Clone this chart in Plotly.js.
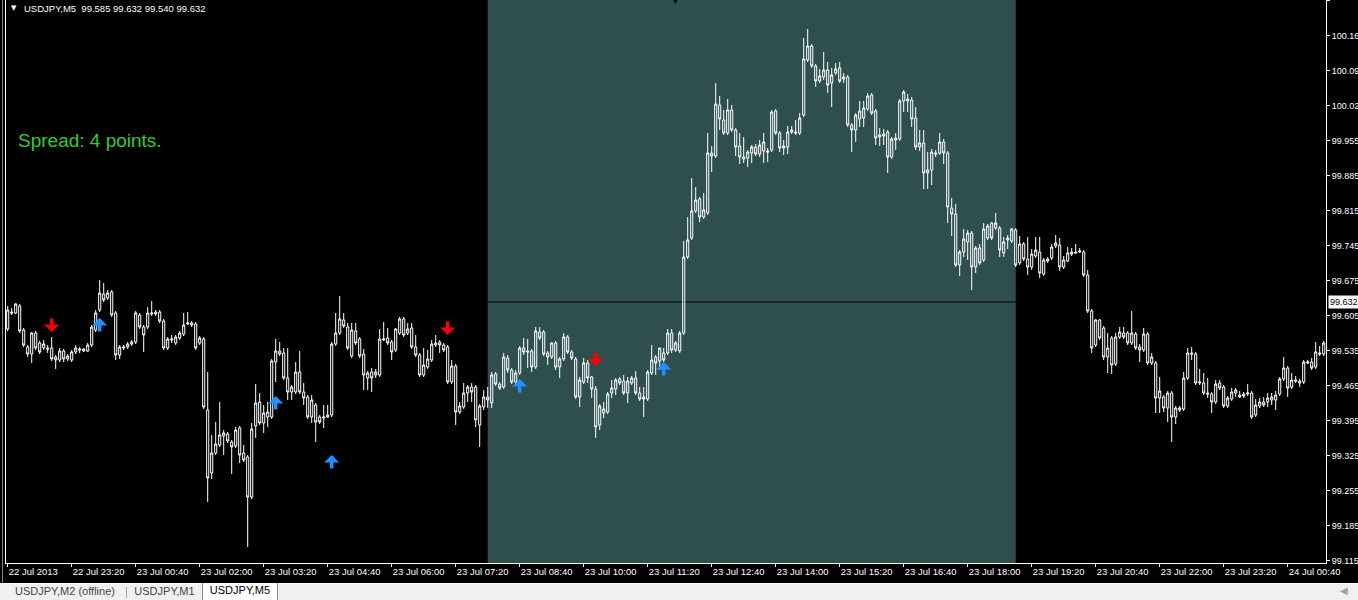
<!DOCTYPE html>
<html>
<head>
<meta charset="utf-8">
<script src="https://cdn.plot.ly/plotly-3.0.1.min.js"></script>
<style>
html,body{margin:0;padding:0;background:#000;width:1358px;height:600px;overflow:hidden;}
#chart{position:absolute;left:0;top:0;width:1358px;height:583px;}
#tabs{position:absolute;left:0;top:583px;width:1358px;height:17px;background:#f0f0f0;border-top:1px solid #ffffff;box-sizing:border-box;font-family:"Liberation Sans",Arial,sans-serif;font-size:11px;color:#444;}
.tab{position:absolute;top:0;height:16px;line-height:15px;text-align:center;}
#b1{position:absolute;left:2px;top:0;width:1px;height:583px;background:#808080;}
#b2{position:absolute;left:5px;top:0;width:1px;height:564px;background:#ffffff;}
</style>
</head>
<body>
<div id="chart"></div>
<div id="b1"></div><div id="b2"></div>
<div id="tabs">
  <div class="tab" style="left:4px;width:122px;">USDJPY,M2 (offline)</div>
  <div style="position:absolute;left:126px;top:3px;width:1px;height:11px;background:#a0a0a0;"></div>
  <div class="tab" style="left:128px;width:73px;">USDJPY,M1</div>
  <div class="tab" style="left:202px;top:-1px;width:74px;height:17px;background:#ffffff;border:1px solid #8a8a8a;border-top:none;color:#000;">USDJPY,M5</div>
  <div style="position:absolute;left:1340px;top:1px;color:#a0a0a0;font-size:10px;">&#9664;</div>
</div>
<script>
// ---- data ----
const barStart = '2013-07-22T22:00:00Z';
const barMinutes = 5;
const opens = [
99.578,99.612,99.610,99.624,99.576,99.542,99.528,99.570,99.550,99.540,
99.540,99.540,99.522,99.516,99.534,99.518,99.516,99.532,99.538,99.534,
99.534,99.546,99.576,99.616,99.648,99.640,99.652,99.610,99.526,99.540,
99.542,99.548,99.552,99.606,99.582,99.582,99.608,99.612,99.612,99.594,
99.540,99.556,99.550,99.560,99.568,99.588,99.590,99.588,99.550,99.558,
99.416,99.290,99.330,99.346,99.364,99.368,99.352,99.344,99.380,99.330,
99.322,99.242,99.384,99.432,99.390,99.402,99.402,99.512,99.534,99.530,
99.480,99.452,99.452,99.492,99.452,99.442,99.402,99.426,99.402,99.400,
99.402,99.406,99.548,99.570,99.596,99.582,99.524,99.574,99.558,99.528,
99.480,99.492,99.486,99.486,99.556,99.560,99.552,99.536,99.570,99.598,
99.570,99.580,99.542,99.526,99.486,99.502,99.516,99.546,99.552,99.546,
99.542,99.472,99.504,99.412,99.422,99.450,99.462,99.462,99.386,99.422,
99.442,99.430,99.488,99.468,99.462,99.520,99.496,99.472,99.490,99.540,
99.534,99.534,99.502,99.572,99.572,99.530,99.522,99.550,99.502,99.518,
99.562,99.532,99.518,99.442,99.472,99.510,99.482,99.458,99.386,99.410,
99.412,99.450,99.458,99.478,99.474,99.450,99.470,99.480,99.450,99.438,
99.438,99.490,99.522,99.514,99.530,99.530,99.570,99.536,99.534,99.570,
99.722,99.760,99.814,99.838,99.802,99.810,99.930,99.924,100.026,99.996,
99.970,100.016,99.976,99.944,99.918,99.920,99.930,99.942,99.928,99.934,
99.934,99.936,100.014,99.970,99.940,99.942,99.972,99.972,99.970,100.006,
100.116,100.144,100.104,100.074,100.082,100.096,100.070,100.090,100.100,100.078,
100.082,99.986,99.976,99.998,100.000,100.018,100.046,100.014,99.962,99.964,
99.972,99.922,99.956,99.958,100.034,100.038,100.036,100.000,99.942,99.950,
99.890,99.896,99.930,99.930,99.952,99.930,99.820,99.808,99.706,99.732,
99.752,99.770,99.702,99.740,99.716,99.760,99.790,99.780,99.780,99.730,
99.756,99.754,99.776,99.710,99.748,99.718,99.702,99.724,99.732,99.688,
99.714,99.720,99.744,99.746,99.702,99.714,99.728,99.732,99.732,99.732,
99.686,99.614,99.546,99.596,99.580,99.522,99.560,99.508,99.562,99.570,
99.570,99.550,99.568,99.542,99.536,99.568,99.510,99.510,99.440,99.442,
99.420,99.450,99.402,99.416,99.418,99.480,99.530,99.528,99.470,99.470,
99.450,99.448,99.432,99.470,99.462,99.424,99.438,99.450,99.446,99.444,
99.448,99.450,99.406,99.424,99.432,99.432,99.436,99.436,99.448,99.478,
99.500,99.462,99.476,99.474,99.472,99.510,99.512,99.502,99.530,99.528];
const highs = [
99.624,99.620,99.630,99.628,99.580,99.546,99.572,99.574,99.554,99.556,
99.546,99.562,99.526,99.540,99.538,99.528,99.536,99.546,99.542,99.540,
99.550,99.586,99.616,99.676,99.670,99.656,99.656,99.614,99.546,99.546,
99.552,99.556,99.614,99.610,99.586,99.622,99.634,99.616,99.616,99.598,
99.562,99.566,99.566,99.574,99.610,99.612,99.594,99.592,99.564,99.562,
99.492,99.366,99.392,99.432,99.376,99.372,99.356,99.382,99.384,99.346,
99.326,99.390,99.468,99.450,99.426,99.432,99.518,99.558,99.552,99.540,
99.540,99.466,99.512,99.534,99.470,99.446,99.446,99.430,99.406,99.426,
99.426,99.552,99.610,99.644,99.610,99.590,99.590,99.590,99.562,99.538,
99.494,99.500,99.498,99.578,99.592,99.580,99.556,99.580,99.602,99.602,
99.590,99.590,99.566,99.530,99.540,99.536,99.556,99.566,99.556,99.550,
99.546,99.516,99.508,99.432,99.470,99.466,99.470,99.466,99.428,99.456,
99.462,99.492,99.492,99.472,99.530,99.526,99.500,99.496,99.544,99.560,
99.558,99.538,99.582,99.582,99.576,99.534,99.552,99.554,99.522,99.570,
99.566,99.536,99.522,99.482,99.520,99.516,99.484,99.464,99.428,99.432,
99.452,99.476,99.480,99.482,99.486,99.482,99.484,99.494,99.462,99.462,
99.496,99.546,99.526,99.540,99.540,99.578,99.578,99.554,99.574,99.754,
99.802,99.880,99.862,99.842,99.850,99.970,99.944,100.070,100.044,100.016,
100.038,100.026,99.980,99.970,99.962,99.936,99.946,99.948,99.956,99.970,
99.940,100.016,100.018,99.974,99.956,99.984,99.984,99.996,100.010,100.160,
100.178,100.148,100.108,100.098,100.132,100.112,100.100,100.110,100.112,100.090,
100.086,99.990,100.010,100.034,100.034,100.050,100.050,100.018,99.980,99.978,
99.976,99.962,99.970,100.038,100.056,100.048,100.042,100.022,99.976,99.976,
99.932,99.938,99.936,99.970,99.958,99.934,99.840,99.828,99.736,99.778,
99.776,99.774,99.744,99.748,99.790,99.788,99.792,99.810,99.784,99.762,
99.766,99.780,99.780,99.764,99.752,99.762,99.738,99.762,99.762,99.720,
99.722,99.748,99.766,99.760,99.724,99.742,99.740,99.748,99.740,99.736,
99.696,99.618,99.598,99.598,99.584,99.570,99.564,99.570,99.582,99.582,
99.574,99.614,99.572,99.548,99.580,99.572,99.530,99.514,99.482,99.446,
99.454,99.454,99.424,99.424,99.492,99.540,99.542,99.532,99.498,99.490,
99.480,99.452,99.476,99.476,99.466,99.444,99.460,99.460,99.454,99.452,
99.468,99.454,99.438,99.440,99.442,99.450,99.450,99.454,99.482,99.522,
99.504,99.490,99.484,99.478,99.516,99.516,99.520,99.552,99.544,99.554];
const lows = [
99.574,99.606,99.608,99.570,99.542,99.522,99.510,99.536,99.528,99.536,
99.530,99.514,99.498,99.512,99.512,99.514,99.512,99.528,99.530,99.532,
99.532,99.542,99.572,99.612,99.632,99.636,99.602,99.516,99.518,99.536,
99.538,99.544,99.548,99.578,99.532,99.578,99.604,99.604,99.590,99.536,
99.536,99.550,99.546,99.556,99.564,99.586,99.582,99.536,99.546,99.418,
99.232,99.278,99.326,99.342,99.326,99.350,99.288,99.340,99.310,99.312,
99.142,99.238,99.360,99.386,99.370,99.382,99.398,99.472,99.524,99.476,
99.436,99.436,99.448,99.448,99.426,99.398,99.390,99.352,99.388,99.380,
99.400,99.402,99.544,99.566,99.580,99.536,99.520,99.546,99.520,99.456,
99.456,99.452,99.480,99.482,99.554,99.546,99.516,99.532,99.566,99.562,
99.566,99.538,99.522,99.482,99.482,99.498,99.512,99.542,99.530,99.532,
99.468,99.468,99.386,99.408,99.418,99.432,99.432,99.382,99.342,99.416,
99.420,99.420,99.464,99.456,99.458,99.490,99.468,99.468,99.486,99.526,
99.500,99.492,99.498,99.556,99.524,99.506,99.518,99.496,99.480,99.514,
99.528,99.516,99.438,99.422,99.468,99.470,99.440,99.360,99.376,99.400,
99.408,99.440,99.446,99.466,99.446,99.430,99.466,99.446,99.434,99.402,
99.434,99.486,99.486,99.496,99.512,99.526,99.530,99.532,99.530,99.566,
99.718,99.756,99.810,99.792,99.798,99.806,99.892,99.920,99.976,99.966,
99.966,99.972,99.924,99.908,99.910,99.902,99.910,99.924,99.922,99.910,
99.912,99.932,99.966,99.932,99.926,99.928,99.968,99.966,99.966,100.002,
100.112,100.100,100.062,100.070,100.076,100.050,100.022,100.086,100.070,100.070,
99.982,99.932,99.952,99.982,99.982,100.014,100.006,99.946,99.944,99.946,
99.890,99.918,99.936,99.954,100.012,100.012,99.982,99.936,99.934,99.858,
99.858,99.866,99.922,99.926,99.908,99.790,99.764,99.702,99.684,99.722,
99.716,99.656,99.690,99.706,99.712,99.756,99.756,99.776,99.722,99.722,
99.738,99.750,99.702,99.706,99.714,99.686,99.696,99.720,99.680,99.684,
99.710,99.716,99.740,99.694,99.698,99.712,99.724,99.730,99.730,99.682,
99.610,99.530,99.542,99.556,99.516,99.490,99.488,99.504,99.558,99.558,
99.546,99.546,99.536,99.512,99.532,99.506,99.506,99.410,99.410,99.412,
99.392,99.352,99.388,99.412,99.414,99.476,99.516,99.466,99.466,99.446,
99.440,99.410,99.428,99.456,99.420,99.420,99.434,99.442,99.440,99.440,
99.444,99.398,99.402,99.420,99.422,99.422,99.426,99.416,99.444,99.474,
99.442,99.458,99.470,99.462,99.468,99.508,99.496,99.498,99.524,99.524];
const closes = [
99.616,99.610,99.628,99.574,99.546,99.528,99.570,99.540,99.532,99.548,
99.538,99.518,99.516,99.534,99.518,99.524,99.532,99.540,99.536,99.538,
99.546,99.582,99.610,99.650,99.636,99.650,99.606,99.526,99.542,99.542,
99.548,99.552,99.610,99.582,99.566,99.610,99.610,99.608,99.594,99.540,
99.558,99.558,99.562,99.570,99.586,99.590,99.586,99.540,99.560,99.422,
99.280,99.330,99.348,99.366,99.370,99.354,99.342,99.376,99.326,99.316,
99.242,99.378,99.430,99.390,99.410,99.412,99.514,99.534,99.528,99.480,
99.452,99.462,99.492,99.452,99.440,99.402,99.436,99.392,99.392,99.402,
99.406,99.548,99.570,99.598,99.584,99.540,99.576,99.550,99.524,99.486,
99.490,99.480,99.492,99.558,99.558,99.550,99.532,99.578,99.598,99.566,
99.578,99.542,99.526,99.486,99.506,99.518,99.548,99.550,99.546,99.536,
99.472,99.504,99.412,99.424,99.450,99.462,99.452,99.396,99.424,99.442,
99.436,99.486,99.468,99.460,99.522,99.496,99.472,99.490,99.540,99.532,
99.532,99.502,99.574,99.560,99.528,99.522,99.550,99.502,99.518,99.562,
99.532,99.520,99.442,99.476,99.510,99.480,99.458,99.382,99.424,99.418,
99.448,99.460,99.476,99.470,99.450,99.474,99.480,99.450,99.438,99.442,
99.492,99.516,99.510,99.540,99.516,99.570,99.536,99.550,99.570,99.722,
99.756,99.814,99.836,99.802,99.816,99.930,99.924,100.028,99.998,99.970,
100.016,99.976,99.942,99.922,99.922,99.932,99.942,99.928,99.946,99.952,
99.932,100.012,99.970,99.940,99.944,99.972,99.976,99.970,100.000,100.118,
100.144,100.104,100.074,100.084,100.096,100.066,100.086,100.098,100.074,100.082,
99.986,99.976,100.006,100.014,100.020,100.044,100.010,99.960,99.966,99.968,
99.922,99.958,99.960,100.034,100.052,100.034,99.998,99.942,99.950,99.890,
99.896,99.932,99.928,99.952,99.930,99.822,99.808,99.706,99.732,99.758,
99.770,99.702,99.740,99.710,99.778,99.784,99.760,99.790,99.736,99.752,
99.760,99.778,99.706,99.748,99.718,99.702,99.728,99.736,99.690,99.716,
99.718,99.742,99.750,99.702,99.716,99.730,99.732,99.730,99.734,99.686,
99.614,99.540,99.596,99.560,99.522,99.540,99.506,99.562,99.572,99.562,
99.550,99.570,99.540,99.536,99.568,99.510,99.522,99.440,99.454,99.420,
99.450,99.402,99.420,99.420,99.480,99.530,99.528,99.470,99.472,99.450,
99.448,99.432,99.468,99.460,99.424,99.440,99.452,99.456,99.442,99.448,
99.450,99.402,99.426,99.432,99.426,99.440,99.442,99.446,99.478,99.500,
99.460,99.476,99.474,99.470,99.512,99.512,99.500,99.532,99.528,99.550];

const tickBars = [0,16,32,48,64,80,96,112,128,144,160,176,192,208,224,240,256,272,288,304,320];
const tickLabels = ['22 Jul 2013','22 Jul 23:20','23 Jul 00:40','23 Jul 02:00','23 Jul 03:20','23 Jul 04:40',
  '23 Jul 06:00','23 Jul 07:20','23 Jul 08:40','23 Jul 10:00','23 Jul 11:20','23 Jul 12:40','23 Jul 14:00',
  '23 Jul 15:20','23 Jul 16:40','23 Jul 18:00','23 Jul 19:20','23 Jul 20:40','23 Jul 22:00','23 Jul 23:20','24 Jul 00:40'];

const sellBars = [11, 110, 147];
const sellPrices = [99.572, 99.566, 99.504];
const buyBars = [23, 67, 81, 128, 164];
const buyPrices = [99.600, 99.444, 99.326, 99.478, 99.512];
const markerBar = 167;

const sessionStart = '2013-07-23 08:00';
const sessionEnd = '2013-07-23 19:00';
const currentPrice = 99.632;
const headerText = 'USDJPY,M5\u00a0\u00a099.585 99.632 99.540 99.632';
const spreadText = 'Spread: 4 points.';

// ---- build ----
const T0 = Date.parse(barStart);
function t(j){ return new Date(T0 + j*barMinutes*60000).toISOString().slice(0,23).replace('T',' '); }
const times = opens.map((_, j) => t(j));

const trace = {
  type: 'candlestick',
  x: times, open: opens, high: highs, low: lows, close: closes,
  increasing: {line: {color: '#ffffff', width: 1}, fillcolor: 'rgba(0,0,0,0)'},
  decreasing: {line: {color: '#ffffff', width: 1}, fillcolor: 'rgba(0,0,0,0)'},
  whiskerwidth: 0,
  hoverinfo: 'skip',
  showlegend: false
};

const arrowStyle = {text: '', showarrow: true, ax: 0, arrowwidth: 3.5, arrowhead: 1, arrowsize: 0.72, standoff: 0, xref: 'x', yref: 'y'};
const annotations = [];
sellBars.forEach((b, i) => annotations.push(Object.assign({}, arrowStyle,
  {x: t(b), y: sellPrices[i], ay: -15, arrowcolor: '#ff0000'})));
buyBars.forEach((b, i) => annotations.push(Object.assign({}, arrowStyle,
  {x: t(b), y: buyPrices[i], ay: 15, arrowcolor: '#1e90ff'})));
annotations.push({xref: 'x', yref: 'paper', x: t(markerBar), y: 1, xanchor: 'center', yanchor: 'middle',
  text: '\u25BC', showarrow: false, font: {family: 'DejaVu Sans, sans-serif', size: 9, color: '#000000'}});
annotations.push({xref: 'paper', yref: 'paper', x: 0.0121, y: 1, xanchor: 'left', yanchor: 'top', yshift: -1,
  text: headerText, showarrow: false, font: {family: 'Liberation Sans, Arial, sans-serif', size: 9.5, color: '#ffffff'}});
annotations.push({xref: 'paper', yref: 'paper', x: 0.002, y: 1, xanchor: 'left', yanchor: 'top', yshift: -2,
  text: '\u25BC', showarrow: false, font: {family: 'DejaVu Sans, sans-serif', size: 7, color: '#ffffff'}});
annotations.push({xref: 'paper', yref: 'paper', x: 0.0076, y: 0.751, xanchor: 'left', yanchor: 'middle',
  text: spreadText, showarrow: false, font: {family: 'Liberation Sans, Arial, sans-serif', size: 19, color: '#33cc33'}});
annotations.push({xref: 'paper', yref: 'y', x: 1, y: currentPrice, xanchor: 'left', yanchor: 'middle', xshift: 2,
  text: currentPrice.toFixed(3), showarrow: false, bgcolor: '#ffffff', borderpad: 1,
  font: {family: 'Liberation Sans, Arial, sans-serif', size: 9, color: '#000000'}});

const shapes = [
  {type: 'rect', xref: 'x', yref: 'paper', x0: sessionStart, x1: sessionEnd, y0: 0, y1: 1,
   fillcolor: '#2f4f4f', line: {width: 0}, layer: 'below'},
  {type: 'line', xref: 'x', yref: 'y', x0: sessionStart, x1: sessionEnd, y0: currentPrice, y1: currentPrice,
   line: {color: '#000000', width: 1}, layer: 'below'}
];

const layout = {
  width: 1358, height: 583,
  margin: {l: 6, r: 32, t: 0, b: 20, pad: 0},
  paper_bgcolor: '#000000', plot_bgcolor: '#000000',
  showlegend: false,
  boxgap: 0.25,
  xaxis: {
    type: 'date', range: [t(-0.425), t(329.575)],
    rangeslider: {visible: false},
    tickmode: 'array', tickvals: tickBars.map(t), ticktext: tickLabels,
    ticks: 'outside', ticklen: 3, tickcolor: '#ffffff', tickwidth: 1,
    ticklabelposition: 'outside right',
    tickfont: {family: 'Liberation Sans, Arial, sans-serif', size: 9.5, color: '#ffffff'},
    showline: true, linecolor: '#ffffff', linewidth: 1,
    showgrid: false, zeroline: false, fixedrange: true
  },
  yaxis: {
    side: 'right', range: [99.110, 100.236],
    tickmode: 'linear', tick0: 99.115, dtick: 0.07, tickformat: '.3f',
    ticks: 'outside', ticklen: 3, tickcolor: '#ffffff', tickwidth: 1,
    tickfont: {family: 'Liberation Sans, Arial, sans-serif', size: 9, color: '#ffffff'},
    showline: true, linecolor: '#ffffff', linewidth: 1,
    showgrid: false, zeroline: false, fixedrange: true
  },
  shapes: shapes,
  annotations: annotations
};

Plotly.newPlot('chart', [trace], layout, {displayModeBar: false, staticPlot: true});
</script>
</body>
</html>
